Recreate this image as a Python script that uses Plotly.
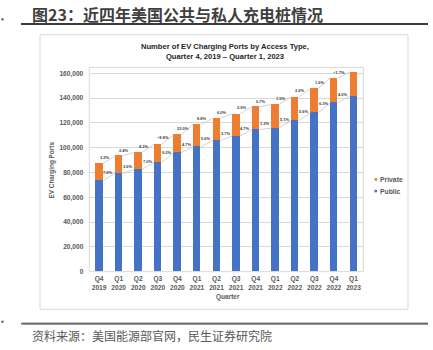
import numpy as np
import plotly.graph_objects as go

quarters = ["Q4<br>2019", "Q1<br>2020", "Q2<br>2020", "Q3<br>2020", "Q4<br>2020",
            "Q1<br>2021", "Q2<br>2021", "Q3<br>2021", "Q4<br>2021", "Q1<br>2022",
            "Q2<br>2022", "Q3<br>2022", "Q4<br>2022", "Q1<br>2023"]
public = [73400, 79300, 82500, 88000, 96000, 100700, 105800, 109400,
          114600, 115800, 121800, 128300, 136300, 141700]
private = [13800, 14100, 13800, 14700, 14400, 18100, 18000, 17800,
           18400, 19100, 19200, 19400, 19900, 19300]
private_growth = ["3.2%", "2.4%", "4.3%", "\u22128.8%", "23.0%", "8.8%", "6.0%",
                  "2.9%", "0.7%", "1.5%", "2.0%", "1.6%", "\u22121.7%"]
public_growth = ["7.6%", "3.6%", "7.0%", "9.2%", "4.7%", "5.6%", "3.7%",
                 "4.7%", "1.3%", "5.1%", "5.6%", "6.3%", "4.0%"]
y_ticks = [0, 20000, 40000, 60000, 80000, 100000, 120000, 140000, 160000]

W, H = 433, 350
BLUE = "#4472C4"
ORANGE = "#ED7D31"
AX = "#595959"
FONT = "Liberation Sans, Arial, sans-serif"
CJK = "Noto Sans CJK SC, sans-serif"

xi = np.arange(len(quarters))
pub = np.array(public, dtype=float)
tot = pub + np.array(private, dtype=float)
bw = 0.38

fig = go.Figure()
fig.add_trace(go.Bar(x=xi, y=public, width=bw, marker=dict(color=BLUE, line=dict(width=0)),
                     name="Public", showlegend=False))
fig.add_trace(go.Bar(x=xi, y=private, width=bw, marker=dict(color=ORANGE, line=dict(width=0)),
                     name="Private", showlegend=False))

# series lines between bar tops
lx, ly = [], []
for tops in (pub, tot):
    for i in range(len(xi) - 1):
        lx += [xi[i] + bw / 2, xi[i + 1] - bw / 2, None]
        ly += [tops[i], tops[i + 1], None]
fig.add_trace(go.Scatter(x=lx, y=ly, mode="lines", line=dict(color="#bfbfbf", width=0.7),
                         hoverinfo="skip", showlegend=False))

ann = []
lab_font = dict(size=4, color="#404040", family=FONT, weight="bold")
for i in range(len(xi) - 1):
    xp = xi[i] + 0.28
    f = (xp - (xi[i] + bw / 2)) / (1 - bw)
    yp = tot[i] + (tot[i + 1] - tot[i]) * max(f, 0)
    ann.append(dict(x=xp, y=yp, xref="x", yref="y", text=private_growth[i], showarrow=False,
                    xanchor="center", yanchor="middle", yshift=5, font=lab_font))
    xq = xi[i] + 0.48
    f = (xq - (xi[i] + bw / 2)) / (1 - bw)
    yq = pub[i] + (pub[i + 1] - pub[i]) * f
    ann.append(dict(x=xq, y=yq, xref="x", yref="y", text=public_growth[i], showarrow=False,
                    xanchor="center", yanchor="middle", yshift=5, font=lab_font))

def px(x):
    return x / W

def py(y):
    return 1 - y / H

def pann(x, y, text, font, xanchor="center", **kw):
    d = dict(x=px(x), y=py(y), xref="paper", yref="paper", showarrow=False, text=text,
             xanchor=xanchor, yanchor="middle", font=font)
    d.update(kw)
    ann.append(d)

# chart title
pann(225, 51.5, "Number of EV Charging Ports by Access Type,<br>Quarter 4, 2019 \u2013 Quarter 1, 2023",
     dict(size=7.6, color="#262626", family=FONT, weight="bold"), align="center")
# axis titles
pann(228, 300, "Quarter", dict(size=6.5, color=AX, family=FONT, weight="bold"))
pann(52, 172, "EV Charging Ports", dict(size=6.4, color=AX, family=FONT, weight="bold"), textangle=-90)
# legend
for lab, yy in (("Private", 181), ("Public", 192.7)):
    pann(377.5, yy, lab, dict(size=6.8, color=AX, family=FONT, weight="bold"), xanchor="left")
# outer title and source
pann(30, 14.5, "图23：近四年美国公共与私人充电桩情况",
     dict(size=16, color="#404040", family=CJK, weight="bold"), xanchor="left")
pann(30, 338, "资料来源：美国能源部官网，民生证券研究院",
     dict(size=12, color="#595959", family=CJK), xanchor="left")

# page rules drawn as arrow-less annotation lines
for yy, col, wd in ((24.3, "#3c3c3c", 2), (326.5, "#6e6e6e", 1.8)):
    ann.append(dict(x=px(428), y=py(yy), xref="paper", yref="paper", text="", showarrow=True,
                    arrowhead=0, arrowwidth=wd, arrowcolor=col, ax=-(428 - 21), ay=0,
                    axref="pixel", ayref="pixel", standoff=0, startstandoff=0))

shapes = [
    dict(type="rect", xref="paper", yref="paper", x0=px(40), x1=px(408), y0=py(312), y1=py(35),
         line=dict(color="#d9d9d9", width=1)),
    dict(type="rect", xref="paper", yref="paper", x0=px(89.3), x1=px(363.3), y0=py(274), y1=py(68),
         line=dict(color="#d9d9d9", width=1)),
    dict(type="line", xref="paper", yref="paper", x0=px(21), x1=px(428), y0=py(24.3), y1=py(24.3),
         line=dict(color="#3c3c3c", width=2)),
    dict(type="line", xref="paper", yref="paper", x0=px(21), x1=px(428), y0=py(326.5), y1=py(326.5),
         line=dict(color="#6e6e6e", width=1.8)),
]

def rect(x0, y0, x1, y1, fill):
    return dict(type="rect", xref="paper", yref="paper", x0=px(x0), x1=px(x1),
                y0=py(y1), y1=py(y0), line=dict(width=0), fillcolor=fill)

shapes.append(rect(1.5, 18.5, 3.5, 20.5, "#404040"))
shapes.append(rect(1.5, 323.5, 3.5, 325.5, "#404040"))
for col, yy in ((ORANGE, 181), (BLUE, 192.7)):
    shapes.append(rect(374.5, yy - 1.3, 377, yy + 1.3, col))

fig.update_layout(
    width=W, height=H, margin=dict(l=0, r=0, t=0, b=0),
    paper_bgcolor="white", plot_bgcolor="rgba(0,0,0,0)",
    barmode="stack", bargap=0, showlegend=False,
    xaxis=dict(domain=[px(89.3), px(363.3)], range=[-0.5, len(quarters) - 0.5],
               tickmode="array", tickvals=xi, ticktext=quarters, showgrid=False, zeroline=False,
               showline=False, ticks="", tickangle=0, ticklabelstandoff=2,
               tickfont=dict(size=6.6, color=AX, family=FONT, weight="bold")),
    yaxis=dict(domain=[py(274), py(68)], range=[0, 160000 * 206 / 200],
               tickmode="array", tickvals=y_ticks, tickformat=",", showgrid=True,
               gridcolor="#d9d9d9", gridwidth=0.8, zeroline=False, showline=False, ticks="",
               ticklabelstandoff=5,
               tickfont=dict(size=6.6, color=AX, family=FONT, weight="bold")),
    annotations=ann, shapes=shapes,
)
fig.write_html("out.html")
